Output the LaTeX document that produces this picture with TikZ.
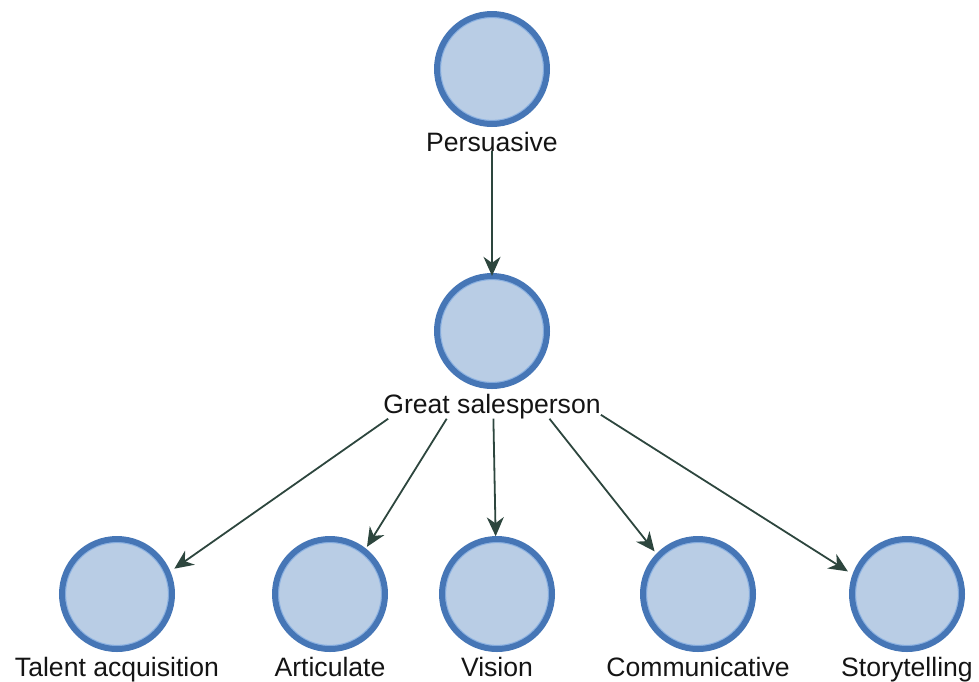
\documentclass[tikz,border=0pt]{standalone}
\usepackage{fontspec}
\setmainfont{Liberation Sans}
\usetikzlibrary{arrows.meta,calc,fit}

\definecolor{nodefill}{RGB}{185,205,229}
\definecolor{noderim}{RGB}{70,118,182}
\definecolor{noderimlight}{RGB}{140,178,226}
\definecolor{linkcol}{RGB}{45,70,62}

\tikzset{
  bubble/.style={circle, draw=noderim, fill=nodefill, line width=6pt,
    minimum size=110pt, inner sep=0pt,
    path picture={\draw[noderimlight, line width=1.2pt]
      (path picture bounding box.center) circle (51.5pt);}},
  caption/.style={anchor=base, inner sep=0pt,
    font=\fontsize{26.6}{30}\selectfont, text=black!92},
  group/.style={inner sep=0pt, outer sep=0pt},
  link/.style={draw=linkcol, line width=1.8pt,
    -{Stealth[length=19pt,width=17pt,inset=6pt]}},
}

\begin{document}
\begin{tikzpicture}[x=1pt, y=-1pt]
  \useasboundingbox (0,0) rectangle (979,681);

  % top concept
  \node[bubble]  (pc) at (492,69)  {};
  \node[caption] (pl) at (492,151) {Persuasive};
  \node[group, fit=(pc)(pl)] (p) {};

  % central concept
  \node[bubble]  (gc) at (492,331) {};
  \node[caption] (gl) at (492,413) {Great salesperson};
  \node[group, fit=(gc)(gl)] (g) {};

  % bottom row
  \node[bubble]  (tac) at (117,594) {};
  \node[caption] (tal) at (117,676) {Talent acquisition};
  \node[group, fit=(tac)(tal)] (ta) {};

  \node[bubble]  (arc) at (330,594) {};
  \node[caption] (arl) at (330,676) {Articulate};
  \node[group, fit=(arc)(arl)] (ar) {};

  \node[bubble]  (vic) at (497,594) {};
  \node[caption] (vil) at (497,676) {Vision};
  \node[group, fit=(vic)(vil)] (vi) {};

  \node[bubble]  (coc) at (698,594) {};
  \node[caption] (col) at (698,676) {Communicative};
  \node[group, fit=(coc)(col)] (co) {};

  \node[bubble]  (stc) at (907,594) {};
  \node[caption] (stl) at (907,676) {Storytelling};
  \node[group, fit=(stc)(stl)] (st) {};

  % connectors, aimed between group centres and stopping at the circle rim
  \draw[link] (p) -- ($(g.center)!70pt!(p.center)$);
  \foreach \t in {ta,ar,vi,co,st}
    \draw[link] (g) -- ($(\t.center)!70pt!(g.center)$);
\end{tikzpicture}
\end{document}
